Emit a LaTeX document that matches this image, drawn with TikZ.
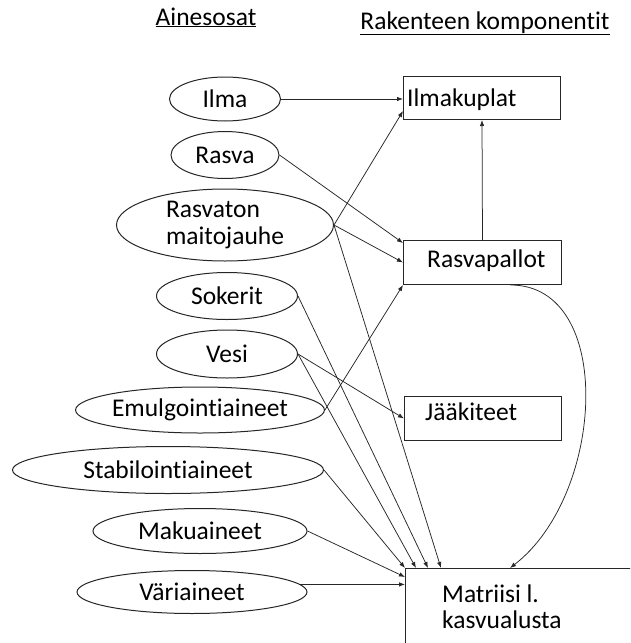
\documentclass[tikz,border=0pt]{standalone}
\usepackage{fontspec}
\setmainfont[Ligatures={NoCommon,NoRequired,NoContextual}]{Carlito}
\usetikzlibrary{shapes.geometric,arrows.meta,calc}
\begin{document}
\begin{tikzpicture}[x=1pt,y=-1pt,
  every node/.style={font=\fontsize{25.5}{27}\selectfont, text=black},
  ell/.style={draw=black!85, ellipse, inner sep=0pt, line width=1pt},
  box/.style={draw=black!85, rectangle, inner sep=0pt, line width=1pt},
  con/.style={draw=black!85, line width=0.75pt, -{Latex[length=6pt,width=4.5pt]}},
  lbl/.style={anchor=base west, inner sep=0pt},
  hdr/.style={anchor=base, inner sep=0pt}]
\useasboundingbox (0,0) rectangle (630,643);
\clip (0,0) rectangle (630,643);

% headers
\node[hdr] (h1) at (206,25) {\underline{Ainesosat}};
\node[hdr] (h2) at (485,29) {\underline{Rakenteen komponentit}};

% ingredients
\node[ell, minimum width=111, minimum height=44] (ilma) at (225,99) {Ilma};
\node[ell, minimum width=108, minimum height=47] (rasva) at (225,155) {Rasva};
\node[ell, minimum width=217, minimum height=72, align=left] (rasvaton) at (225,225) {Rasvaton\\maitojauhe};
\node[ell, minimum width=141, minimum height=47] (sokerit) at (227,296) {Sokerit};
\node[ell, minimum width=141, minimum height=48] (vesi) at (227,354) {Vesi};
\node[ell, minimum width=247, minimum height=46] (emul) at (200,410) {Emulgointiaineet};
\node[ell, minimum width=311, minimum height=47] (stab) at (168,470) {Stabilointiaineet};
\node[ell, minimum width=214, minimum height=45] (maku) at (200,531) {Makuaineet};
\node[ell, minimum width=230, minimum height=43] (vari) at (192,592) {Väriaineet};

% components
\node[box, minimum width=157, minimum height=43, anchor=north west] (ilmak) at (403,76) {};
\node[lbl] (ilmakt) at (407,106) {Ilmakuplat};
\node[box, minimum width=158, minimum height=44, anchor=north west] (rasvap) at (403,240) {};
\node[lbl] (rasvapt) at (427,267) {Rasvapallot};
\node[box, minimum width=157, minimum height=44, anchor=north west] (jaa) at (404,396) {};
\node[lbl] (jaat) at (425,420) {Jääkiteet};
\node[box, minimum width=260, minimum height=120, anchor=north west] (matr) at (405,568) {};
\node[lbl] (matrt1) at (442,602) {Matriisi l.};
\node[lbl] (matrt2) at (442,628) {kasvualusta};

% connectors
\draw[con] (ilma.east) -- (ilma.east -| ilmak.west);
\draw[con] (rasvaton.east) -- ($(ilmak.south west)+(0,-9)$);
\draw[con] (rasva.east) -- ($(rasvap.north west)+(0,3)$);
\draw[con] (rasvaton.east) -- (rasvap.west);
\draw[con] (emul.east) -- (rasvap.south west);
\draw[con] (rasvap.north) -- (ilmak.south);
\draw[con] (vesi.east) -- (jaa.west);
\draw[con] (rasvaton.east) -- ($(matr.north west)+(36,0)$);
\draw[con] (sokerit.east) -- ($(matr.north west)+(23,0)$);
\draw[con] (vesi.east) -- ($(matr.north west)+(11,0)$);
\draw[con] (stab.east) -- (matr.north west);
\draw[con] (maku.east) -- ($(matr.north west)+(0,9)$);
\draw[con] (vari.4) -- (vari.4 -| matr.west);
\draw[con] ($(rasvap.south)+(28,0)$) .. controls +(105,0) and +(95,-73) .. ($(matr.north west)+(105,0)$);
\end{tikzpicture}
\end{document}
